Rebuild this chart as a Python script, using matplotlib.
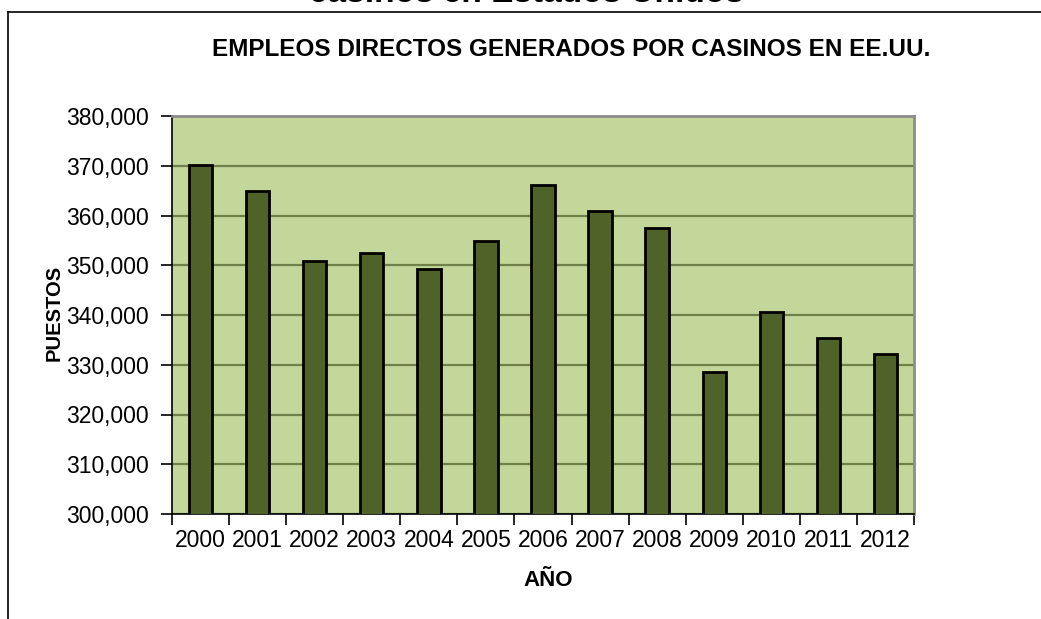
import matplotlib
matplotlib.use("Agg")
import matplotlib.pyplot as plt
from matplotlib.lines import Line2D
import numpy as np

years = ["2000", "2001", "2002", "2003", "2004", "2005", "2006",
         "2007", "2008", "2009", "2010", "2011", "2012"]
puestos = [370100, 364900, 350900, 352400, 349150, 354900, 366100,
           360900, 357400, 328500, 340600, 335300, 332200]
yticks = [300000, 310000, 320000, 330000, 340000, 350000, 360000, 370000, 380000]

title_top = "casinos en Estados Unidos"
chart_title = "EMPLEOS DIRECTOS GENERADOS POR CASINOS EN EE.UU."
xlabel = "AÑO"
ylabel = "PUESTOS"

plt.rcParams['font.family'] = ['Liberation Sans', 'DejaVu Sans']

W, H = 1041, 619
fig = plt.figure(figsize=(W / 100, H / 100), dpi=100)

# outer chart frame (left and top edges visible)
fig.add_artist(Line2D([8 / W, 8 / W], [0, 1 - 12 / H], transform=fig.transFigure,
                      color='black', lw=1.2))
fig.add_artist(Line2D([8 / W, 1.0], [1 - 12 / H, 1 - 12 / H], transform=fig.transFigure,
                      color='black', lw=1.2))

# clipped title at very top (only its lower part is visible, as in the reference)
fig.text(526 / W, 1 - 1.5 / H, title_top, ha='center', va='baseline',
         fontsize=24, fontweight='bold')

ax = fig.add_axes([172 / W, 1 - 514 / H, (914 - 172) / W, (514 - 116) / H])
ax.set_facecolor('#c4d79b')

x = np.arange(len(years))
ax.bar(x, puestos, width=0.41, color='#4f6228', edgecolor='black', linewidth=2,
       zorder=3)

ax.set_xlim(-0.5, len(years) - 0.5)
ax.set_ylim(yticks[0], yticks[-1])
ax.set_yticks(yticks)
ax.set_yticklabels([f"{v:,}" for v in yticks], fontsize=16.5)
ax.yaxis.grid(True, color='#6f8048', lw=1.6, zorder=1)
ax.set_axisbelow(True)

ax.set_xticks(x)
ax.set_xticklabels(years, fontsize=16.5)
ax.set_xticks(np.arange(-0.5, len(years), 1.0), minor=True)
ax.tick_params(axis='x', which='major', length=0, pad=11)
ax.tick_params(axis='x', which='minor', length=8, width=1.2, color='black')
ax.tick_params(axis='y', length=8, width=1.2, color='black', pad=9)

for s in ['top', 'right']:
    ax.spines[s].set_color('#8c8c8c')
    ax.spines[s].set_linewidth(2)
for s in ['left', 'bottom']:
    ax.spines[s].set_color('black')
    ax.spines[s].set_linewidth(1.2)

fig.text(571 / W, 1 - 49 / H, chart_title, ha='center', va='center',
         fontsize=17.5, fontweight='bold')
fig.text(548 / W, 1 - 580 / H, xlabel, ha='center', va='center',
         fontsize=16, fontweight='bold')
fig.text(54 / W, 1 - 313 / H, ylabel, ha='center', va='center', rotation=90,
         fontsize=14.5, fontweight='bold')

fig.savefig("out.png", dpi=100)
